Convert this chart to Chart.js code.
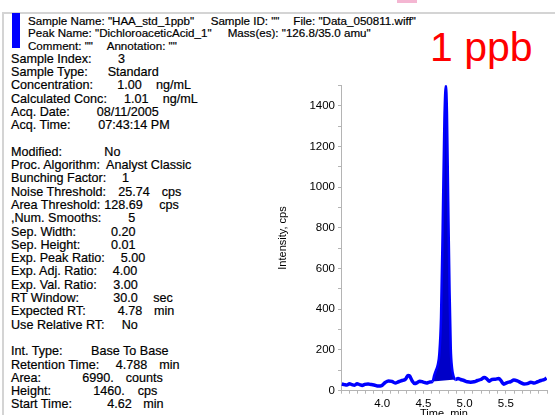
<!DOCTYPE html>
<html>
<head>
<meta charset="utf-8">
<script src="https://cdn.jsdelivr.net/npm/chart.js@4"></script>
<style>
  html, body { margin: 0; padding: 0; }
  body {
    width: 555px; height: 415px; overflow: hidden; position: relative;
    background: #fff; font-family: "Liberation Sans", Arial, sans-serif; color: #000;
  }
  .frame-top { position: absolute; left: 3px; top: 12px; width: 552px; border-top: 2px solid #d4d4d4; }
  .frame-left { position: absolute; left: 2px; top: 12px; bottom: 0; border-left: 2px solid #d4d4d4; }
  .tab { position: absolute; left: 397px; top: 0; width: 20px; height: 3px; background: #f4b6d2; }
  .marker { position: absolute; left: 12px; top: 13px; width: 8px; height: 35px; background: #0000ff; }
  .t { position: absolute; white-space: pre; -webkit-text-stroke: 0.2px #000; }
  .head { font-size: 11.6px; line-height: 14px; }
  .info { font-size: 12.6px; line-height: 13.3px; }
  .big { position: absolute; left: 430px; top: 27px; font-size: 41px; line-height: 41px; color: #ff0000; white-space: pre; }
  #chart-box { position: absolute; left: 270px; top: 70px; width: 285px; height: 360px; }
</style>
</head>
<body>
  <div class="frame-top"></div>
  <div class="frame-left"></div>
  <div class="tab"></div>
  <div class="marker"></div>
  <div id="panel"></div>
  <div class="big">1 ppb</div>
  <div id="chart-box"><canvas id="chrom-chart"></canvas></div>

<script>
// Chromatogram data
const times = [
  3.530, 3.561, 3.592, 3.623, 3.653, 3.684, 3.715, 3.746, 3.777, 3.808,
  3.849, 3.890, 3.931, 3.972, 4.014, 4.055, 4.096, 4.137, 4.178, 4.219,
  4.261, 4.302, 4.333, 4.353, 4.384, 4.415, 4.446, 4.477, 4.518, 4.559,
  4.590, 4.631, 4.651, 4.672, 4.693, 4.713, 4.734, 4.754, 4.775, 4.793,
  4.806, 4.821, 4.837, 4.852, 4.868, 4.888, 4.909, 4.940, 4.971, 5.012,
  5.053, 5.094, 5.135, 5.176, 5.217, 5.259, 5.289, 5.320, 5.351, 5.392,
  5.434, 5.464, 5.495, 5.536, 5.577, 5.618, 5.660, 5.701, 5.742, 5.783,
  5.824, 5.865, 5.906, 5.947, 5.988, 6.014
]
const intensity = [
  33, 30, 28, 34, 30, 27, 34, 30, 26, 31,
  33, 30, 27, 23, 25, 40, 48, 46, 38, 44,
  50, 56, 75, 72, 48, 35, 40, 47, 42, 38,
  42, 45, 75, 100, 125, 180, 360, 800, 1330, 1500,
  1360, 930, 500, 210, 110, 68, 55, 60, 55, 50,
  44, 42, 44, 50, 55, 65, 58, 47, 55, 56,
  60, 48, 32, 40, 44, 52, 48, 40, 33, 35,
  42, 38, 44, 50, 55, 62
]
const peakStart = 4.631
const peakEnd = 4.909
const xTickLabels = ['4.0', '4.5', '5.0', '5.5']
const yTickLabels = ['0', '200', '400', '600', '800', '1000', '1200', '1400']

// Header + parameter text
const headRows = [
  [[28, 'Sample Name: "HAA_std_1ppb"'], [210.7, 'Sample ID: ""'], [293.3, 'File: "Data_050811.wiff"']],
  [[28, 'Peak Name: "DichloroaceticAcid_1"'], [227.7, 'Mass(es): "126.8/35.0 amu"']],
  [[28, 'Comment: ""'], [106.7, 'Annotation: ""']]
]
const infoRows = [
  ['Sample Index:', '3', 118],
  ['Sample Type:', 'Standard', 107.7],
  ['Concentration:', '1.00', 117.3, 'ng/mL', 156],
  ['Calculated Conc:', '1.01', 124, 'ng/mL', 162.7],
  ['Acq. Date:', '08/11/2005', 96.7],
  ['Acq. Time:', '07:43:14 PM', 98.3],
  null,
  ['Modified:', 'No', 104.3],
  ['Proc. Algorithm:', 'Analyst Classic', 106],
  ['Bunching Factor:', '1', 122],
  ['Noise Threshold:', '25.74', 118.3, 'cps', 161.7],
  ['Area Threshold:', '128.69', 104.3, 'cps', 159.3],
  [',Num. Smooths:', '5', 128.3],
  ['Sep. Width:', '0.20', 111],
  ['Sep. Height:', '0.01', 111],
  ['Exp. Peak Ratio:', '5.00', 120.7],
  ['Exp. Adj. Ratio:', '4.00', 112.7],
  ['Exp. Val. Ratio:', '3.00', 113.3],
  ['RT Window:', '30.0', 113.3, 'sec', 153.3],
  ['Expected RT:', '4.78', 117.7, 'min', 154],
  ['Use Relative RT:', 'No', 121.7],
  null,
  ['Int. Type:', 'Base To Base', 91],
  ['Retention Time:', '4.788', 115.7, 'min', 159.3],
  ['Area:', '6990.', 82.3, 'counts', 125.7],
  ['Height:', '1460.', 93.3, 'cps', 137.7],
  ['Start Time:', '4.62', 107.3, 'min', 143.3]
]

const panel = document.querySelector('#panel')
const addText = (cls, x, y, text) => {
  const el = document.createElement('div')
  el.className = 't ' + cls
  el.style.left = x + 'px'
  el.style.top = y + 'px'
  el.textContent = text
  panel.appendChild(el)
}

headRows.forEach((row, i) => {
  const top = 13.7 + i * 12.5
  row.forEach(([x, text]) => addText('head', x, top, text))
})

infoRows.forEach((row, i) => {
  if (!row) return
  const top = 59.3 + i * 13.3 - 6.65
  addText('info', 11, top, row[0])
  addText('info', row[2], top, row[1])
  if (row[3]) addText('info', row[4], top, row[3])
})

// Chromatogram chart
const signal = times.map((t, i) => ({ x: t, y: intensity[i] }))
const peakArea = signal.filter(p => p.x >= peakStart && p.x <= peakEnd)
const peakBase = [peakArea[0], peakArea[peakArea.length - 1]]
const inPeak = (ctx) => ctx.p0.parsed.x >= peakStart && ctx.p1.parsed.x <= peakEnd

const axisGrey = '#b4b4b4'
const tickFont = { family: 'Liberation Sans', size: 11.5 }

new Chart(document.querySelector('#chrom-chart'), {
  type: 'line',
  data: {
    datasets: [
      {
        label: 'Signal',
        data: signal,
        borderColor: '#0000ff',
        borderWidth: 3.5,
        pointRadius: 0,
        cubicInterpolationMode: 'monotone',
        fill: false,
        segment: {
          borderWidth: (ctx) => (inPeak(ctx) ? 2.5 : 3.5)
        }
      },
      {
        label: 'Peak',
        data: peakArea,
        borderWidth: 0,
        pointRadius: 0,
        cubicInterpolationMode: 'monotone',
        backgroundColor: '#0000c8',
        fill: '+1'
      },
      {
        label: 'Base',
        data: peakBase,
        borderWidth: 0,
        pointRadius: 0,
        fill: false
      }
    ]
  },
  options: {
    responsive: true,
    maintainAspectRatio: false,
    animation: false,
    layout: {
      padding: { top: 15.3, right: 8, left: 0, bottom: 0 }
    },
    plugins: {
      legend: { display: false },
      tooltip: { enabled: false }
    },
    scales: {
      x: {
        type: 'linear',
        min: 3.52,
        max: 6.02,
        afterFit: (scale) => { scale.height = 39.3 },
        border: { color: axisGrey, width: 1 },
        grid: { drawOnChartArea: false, tickLength: 3, color: axisGrey },
        ticks: {
          stepSize: 0.1,
          autoSkip: false,
          maxRotation: 0,
          padding: 3,
          color: '#000',
          font: tickFont,
          callback: (value) => {
            const label = Number(value).toFixed(1)
            return xTickLabels.includes(label) ? label : ''
          }
        },
        title: {
          display: true,
          text: 'Time, min',
          color: '#000',
          font: { family: 'Liberation Sans', size: 11 },
          padding: { top: 0, bottom: 9.4 }
        }
      },
      y: {
        min: 0,
        max: 1500,
        afterFit: (scale) => { scale.width = 71 },
        border: { color: axisGrey, width: 1 },
        grid: { drawOnChartArea: false, tickLength: 3, color: axisGrey },
        ticks: {
          stepSize: 100,
          autoSkip: false,
          padding: 3,
          color: '#000',
          font: tickFont,
          callback: (value) => (yTickLabels.includes(String(value)) ? String(value) : '')
        },
        title: {
          display: true,
          text: 'Intensity, cps',
          color: '#000',
          font: { family: 'Liberation Sans', size: 11 },
          padding: { top: 6, bottom: 0 }
        }
      }
    }
  }
})
</script>
</body>
</html>
